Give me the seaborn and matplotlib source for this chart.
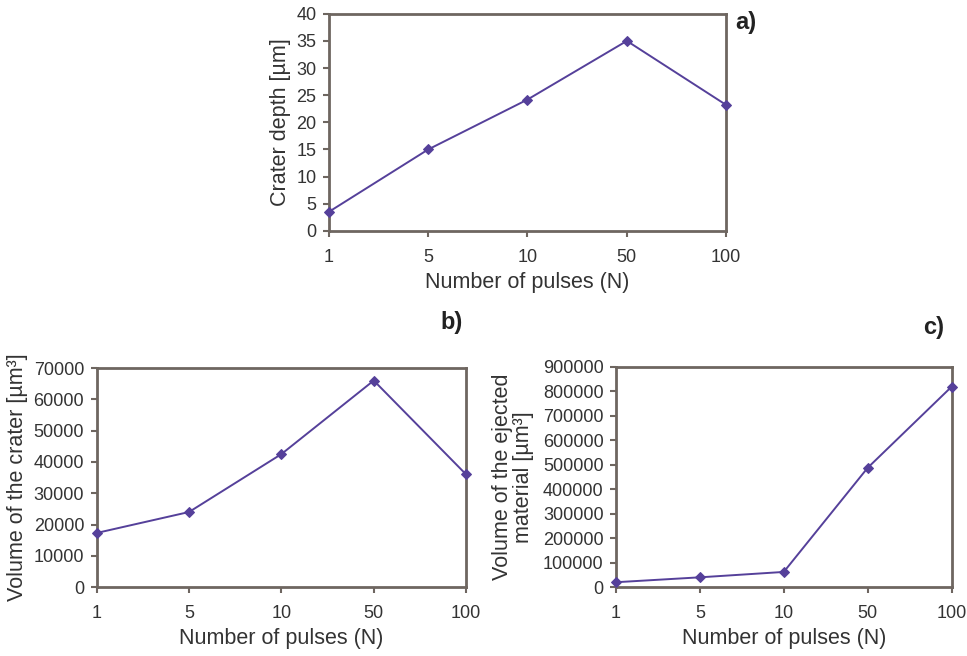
import matplotlib
matplotlib.use("Agg")
import matplotlib.pyplot as plt
import seaborn as sns

# data
pulses = ["1", "5", "10", "50", "100"]
crater_depth = [3.5, 15.0, 24.2, 35.0, 23.2]
crater_volume = [17300, 24000, 42500, 66000, 36000]
ejected_volume = [20000, 40000, 62000, 487000, 818000]

sns.set_style("white")
plt.rcParams['font.family'] = ['Liberation Sans', 'DejaVu Sans']

line_col = "#55409a"
frame_col = "#6e6660"
text_col = "#333333"

fig = plt.figure(figsize=(9.67, 6.56), dpi=100)
ax_a = fig.add_axes([0.340, 0.648, 0.411, 0.331])
ax_b = fig.add_axes([0.100, 0.105, 0.382, 0.334])
ax_c = fig.add_axes([0.637, 0.105, 0.347, 0.336])

panels = [
    (ax_a, crater_depth, "Crater depth [µm]", 40, 5),
    (ax_b, crater_volume, "Volume of the crater [µm³]", 70000, 10000),
    (ax_c, ejected_volume, "Volume of the ejected\nmaterial [µm³]", 900000, 100000),
]

for ax, vals, ylab, ymax, step in panels:
    sns.lineplot(x=pulses, y=vals, ax=ax, color=line_col, marker="D",
                 markersize=5.5, markeredgecolor=line_col, linewidth=1.4,
                 clip_on=False, zorder=5)
    ax.set_xlim(0, 4)
    ax.set_ylim(0, ymax)
    ax.set_yticks(range(0, ymax + 1, step))
    ax.set_xticks(range(5))
    ax.set_xticklabels(pulses)
    for s in ax.spines.values():
        s.set_color(frame_col)
        s.set_linewidth(2.0)
    ax.tick_params(axis="both", direction="out", length=4, width=1.5,
                   color=frame_col, labelsize=13, labelcolor=text_col,
                   bottom=True, left=True, pad=5)
    ax.tick_params(axis="x", pad=9)
    ax.set_xlabel("Number of pulses (N)", fontsize=15.5, color=text_col, labelpad=4)
    ax.set_ylabel(ylab, fontsize=15.5, color=text_col, labelpad=4, linespacing=1.0)

ax_c.yaxis.label.set_horizontalalignment("center")
ax_c.yaxis.labelpad = 6

fig.text(0.760, 0.966, "a)", fontsize=17, fontweight="bold", ha="left", va="center", color="#222222")
fig.text(0.455, 0.509, "b)", fontsize=17, fontweight="bold", ha="left", va="center", color="#222222")
fig.text(0.955, 0.501, "c)", fontsize=17, fontweight="bold", ha="left", va="center", color="#222222")

fig.savefig("out.png", dpi=100)
